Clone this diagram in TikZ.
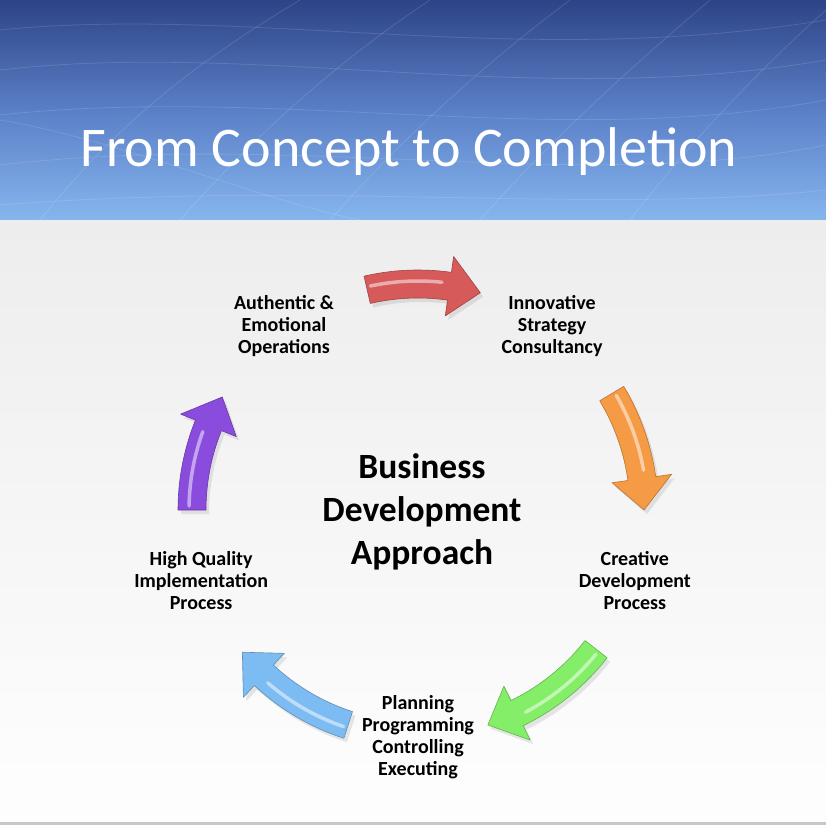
\documentclass[tikz,border=0pt]{standalone}
\usepackage{fontspec}
\setmainfont{Carlito}
\usetikzlibrary{positioning, calc, shadows}

\definecolor{hdtop}{HTML}{2D4487}
\definecolor{hdmid}{HTML}{5A7FC6}
\definecolor{hdbot}{HTML}{86B6EE}
\definecolor{bgtop}{HTML}{EDEDED}
\definecolor{bgbot}{HTML}{FDFDFD}
\definecolor{arrred}{HTML}{D65A5A}
\definecolor{arrorange}{HTML}{F59B45}
\definecolor{arrgreen}{HTML}{84EE68}
\definecolor{arrblue}{HTML}{7DBCF2}
\definecolor{arrpurple}{HTML}{8A4CDC}

% curved cycle arrow: start angle, end angle, colour
\newcommand{\cyclearrow}[3]{%
    \pgfmathsetmacro{\headbase}{#2+8}
    \pgfmathsetmacro{\glowend}{#2+10}
    \fill[arrowbody, fill=#3, draw=#3!75!black]
        (#1:240) arc[start angle=#1, end angle=\headbase, radius=240]
        -- (\headbase:256) -- (#2:226) -- (\headbase:196)
        -- (\headbase:212) arc[start angle=\headbase, end angle=#1, radius=212]
        -- cycle;
    \draw[glow] (#1-1:229) arc[start angle=#1-1, end angle=\glowend, radius=229];
}

\begin{document}
\begin{tikzpicture}[x=1pt, y=1pt]
    \tikzset{
        gridline/.style={white, opacity=0.13, line width=0.8pt},
        title/.style={text=white, font=\fontsize{56}{60}\selectfont},
        stage/.style={font=\bfseries\fontsize{20}{22}\selectfont, align=center},
        hub/.style={font=\bfseries\fontsize{35.5}{43}\selectfont, align=center},
        arrowbody/.style={line width=0.6pt, line join=round,
                          drop shadow={opacity=0.18, shadow xshift=3pt, shadow yshift=-4pt}},
        glow/.style={white, opacity=0.5, line width=3.5pt, line cap=round}
    }
    \useasboundingbox (0,0) rectangle (826,-826);

    % background
    \shade[top color=bgtop, bottom color=bgbot] (0,-220) rectangle (826,-780);
    \fill[bgbot] (0,-780) rectangle (826,-822);
    \fill[black!22] (0,-822) rectangle (826,-825);
    \fill[white] (0,-825) rectangle (826,-826);

    % header band
    \shade[top color=hdtop, bottom color=hdbot, middle color=hdmid] (0,0) rectangle (826,-220);
    \draw[gridline] (0,-30) .. controls (250,-5) and (520,-70) .. (826,-20);
    \draw[gridline] (0,-70) .. controls (260,-40) and (540,-110) .. (826,-60);
    \draw[gridline] (0,-115) .. controls (280,-85) and (560,-150) .. (826,-100);
    \draw[gridline] (0,-165) .. controls (300,-130) and (580,-195) .. (826,-145);
    \draw[gridline] (0,-205) .. controls (320,-180) and (600,-215) .. (826,-190);
    \draw[gridline] (40,-220) .. controls (120,-120) and (200,-60) .. (300,0);
    \draw[gridline] (180,-220) .. controls (260,-130) and (340,-60) .. (430,0);
    \draw[gridline] (330,-220) .. controls (410,-130) and (490,-60) .. (570,0);
    \draw[gridline] (480,-220) .. controls (560,-130) and (640,-60) .. (710,0);
    \draw[gridline] (630,-220) .. controls (700,-130) and (770,-60) .. (826,-10);
    \draw[gridline] (0,-120) .. controls (120,-140) and (260,-200) .. (360,-220);

    \node[title] (heading) at (409,-152) {From Concept to Completion};

    % cycle
    \begin{scope}[shift={(418,-510)}]
        \coordinate (ctr) at (0,0);
        \cyclearrow{103}{74}{arrred}
        \cyclearrow{31}{0}{arrorange}
        \cyclearrow{-38}{-72}{arrgreen}
        \cyclearrow{-108}{-141}{arrblue}
        \cyclearrow{180}{150}{arrpurple}

        \node[hub] (approach) at (4,-2) {Business\\Development\\Approach};

        \node[stage] (innovative) at (54:228) {Innovative\\Strategy\\Consultancy};
        \node[stage] (creative)   at (-18:228) {Creative\\Development\\Process};
        \node[stage] (planning)   at (-90:227) {Planning\\Programming\\Controlling\\Executing};
        \node[stage] (quality)    at (-162:228) {High Quality\\Implementation\\Process};
        \node[stage] (authentic)  at (126:228) {Authentic \&\\Emotional\\Operations};
    \end{scope}
\end{tikzpicture}
\end{document}
